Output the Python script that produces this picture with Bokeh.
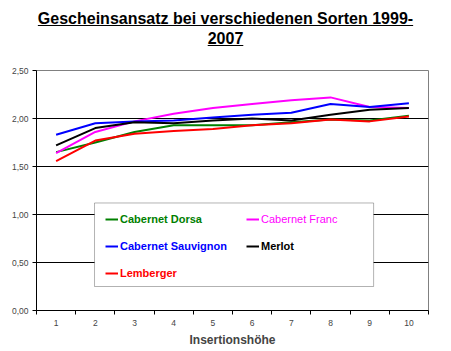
from bokeh.plotting import figure
from bokeh.models import Range1d, FixedTicker, Div, Label, Legend, LegendItem, BoxAnnotation
from bokeh.layouts import column
from bokeh.embed import file_html
from bokeh.resources import INLINE

# ---- data ----
insertion = [1, 2, 3, 4, 5, 6, 7, 8, 9, 10]
x_labels = ["1", "2", "3", "4", "5", "6", "7", "8", "9", "10"]
cabernet_dorsa = [1.65, 1.75, 1.86, 1.93, 1.93, 1.93, 1.96, 1.99, 1.98, 2.03]
cabernet_franc = [1.64, 1.86, 1.97, 2.05, 2.11, 2.15, 2.19, 2.22, 2.12, 2.11]
cabernet_sauvignon = [1.83, 1.95, 1.97, 1.98, 2.01, 2.04, 2.06, 2.15, 2.12, 2.16]
merlot = [1.72, 1.90, 1.96, 1.95, 1.98, 2.00, 1.98, 2.04, 2.09, 2.11]
lemberger = [1.555, 1.77, 1.84, 1.87, 1.89, 1.93, 1.95, 1.99, 1.97, 2.02]
y_ticks = [0.0, 0.5, 1.0, 1.5, 2.0, 2.5]
y_labels = ["0,00", "0,50", "1,00", "1,50", "2,00", "2,50"]

FONT = "Liberation Sans"

title = Div(
    text=("<div style=\"font-family:'Liberation Sans',Arial,sans-serif;font-weight:bold;"
          "font-size:16px;line-height:20px;text-align:center;text-decoration:underline;"
          "padding-top:9px;color:black;width:451px;\">"
          "Gescheinsansatz bei verschiedenen Sorten 1999-<br>2007</div>"),
    width=451, height=52, margin=(0, 0, 0, 0),
)

p = figure(width=451, height=299, x_range=Range1d(0.5, 10.5), y_range=Range1d(0, 2.5),
           output_backend="svg", toolbar_location=None,
           min_border_left=36, min_border_right=23, min_border_top=18, min_border_bottom=41)
p.outline_line_color = "#808080"
p.background_fill_color = "white"
p.xgrid.visible = False
p.ygrid.ticker = FixedTicker(ticks=[0.5, 1.0, 1.5, 2.0])
p.ygrid.grid_line_color = "black"
p.ygrid.grid_line_alpha = 1.0

# y axis
p.yaxis.ticker = FixedTicker(ticks=y_ticks)
p.yaxis.major_label_overrides = {t: l for t, l in zip(y_ticks, y_labels)}
p.yaxis.major_tick_in = 0
p.yaxis.major_tick_out = 4
p.yaxis.minor_tick_line_color = None
p.yaxis.major_label_standoff = 4
p.yaxis.major_label_text_font = FONT
p.yaxis.major_label_text_font_size = "8.5px"
p.yaxis.axis_line_color = "black"

# x axis
p.xaxis.ticker = FixedTicker(ticks=insertion, minor_ticks=[i + 0.5 for i in [0] + insertion])
p.xaxis.major_label_overrides = {t: l for t, l in zip(insertion, x_labels)}
p.xaxis.major_tick_line_color = None
p.xaxis.major_tick_in = 0
p.xaxis.major_tick_out = 0
p.xaxis.minor_tick_in = 0
p.xaxis.minor_tick_out = 4
p.xaxis.minor_tick_line_color = "black"
p.xaxis.major_label_standoff = 5
p.xaxis.major_label_text_font = FONT
p.xaxis.major_label_text_font_size = "8.5px"
p.xaxis.axis_label = "Insertionshöhe"
p.xaxis.axis_label_text_font = FONT
p.xaxis.axis_label_text_font_size = "12px"
p.xaxis.axis_label_text_font_style = "bold"
p.xaxis.axis_label_standoff = 4
p.xaxis.axis_line_color = "black"

series = [
    ("Cabernet Dorsa", cabernet_dorsa, "#008000", "bold", (69, 85)),
    ("Cabernet Franc", cabernet_franc, "#FF00FF", "normal", (210, 85)),
    ("Cabernet Sauvignon", cabernet_sauvignon, "#0000FF", "bold", (69, 58)),
    ("Merlot", merlot, "#000000", "bold", (210, 58)),
    ("Lemberger", lemberger, "#FF0000", "bold", (69, 31)),
]

renderers = []
for name, vals, color, style, loc in series:
    r = p.line(insertion, vals, line_color=color, line_width=2)
    renderers.append(r)

box = BoxAnnotation(left=1.98, right=9.10, top=1.12, bottom=0.25,
                    fill_color="white", fill_alpha=1.0, line_color="black", line_width=1)
p.add_layout(box)

for (name, vals, color, style, loc), r in zip(series, renderers):
    lg = Legend(items=[LegendItem(label=name, renderers=[r])], location=loc,
                orientation="vertical", padding=0, margin=0, spacing=0,
                glyph_width=13, glyph_height=12, label_standoff=2,
                label_height=12,
                border_line_color=None, background_fill_alpha=0.0,
                label_text_font=FONT, label_text_font_size="11px",
                label_text_font_style=style, label_text_color=color)
    p.add_layout(lg)

p.add_layout(Label(x=0.5, y=2.5, x_offset=4, y_offset=9, text="Gescheine",
                   text_font=FONT, text_font_size="9px", text_baseline="alphabetic",
                   text_color="black"))

layout = column(title, p, spacing=0)
open("out.html", "w").write(file_html(layout, INLINE))
